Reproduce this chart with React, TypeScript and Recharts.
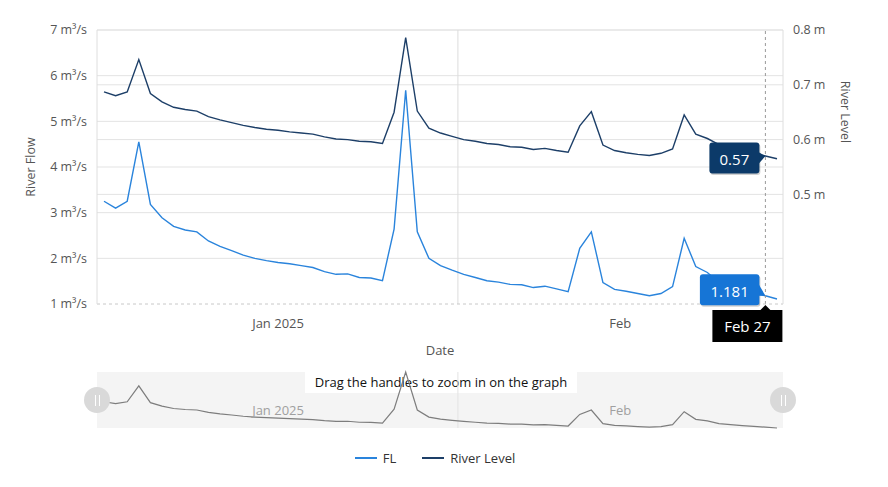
import React from 'react';
import { LineChart, Line, XAxis, YAxis, CartesianGrid, ReferenceLine, ReferenceDot, Legend } from 'recharts';

const FONT = '"Open Sans", "Noto Sans", sans-serif';

// one reading per day, Jan 1 – Feb 28 2025
const days = [
  'Jan 1', 'Jan 2', 'Jan 3', 'Jan 4', 'Jan 5', 'Jan 6', 'Jan 7', 'Jan 8', 'Jan 9', 'Jan 10',
  'Jan 11', 'Jan 12', 'Jan 13', 'Jan 14', 'Jan 15', 'Jan 16', 'Jan 17', 'Jan 18', 'Jan 19', 'Jan 20',
  'Jan 21', 'Jan 22', 'Jan 23', 'Jan 24', 'Jan 25', 'Jan 26', 'Jan 27', 'Jan 28', 'Jan 29', 'Jan 30',
  'Jan 31', 'Feb 1', 'Feb 2', 'Feb 3', 'Feb 4', 'Feb 5', 'Feb 6', 'Feb 7', 'Feb 8', 'Feb 9',
  'Feb 10', 'Feb 11', 'Feb 12', 'Feb 13', 'Feb 14', 'Feb 15', 'Feb 16', 'Feb 17', 'Feb 18', 'Feb 19',
  'Feb 20', 'Feb 21', 'Feb 22', 'Feb 23', 'Feb 24', 'Feb 25', 'Feb 26', 'Feb 27', 'Feb 28',
];

// river flow, m3/s
const flow = [
  3.25, 3.1, 3.25, 4.55, 3.18, 2.89, 2.7, 2.62, 2.58, 2.38,
  2.26, 2.17, 2.07, 2.0, 1.95, 1.91, 1.88, 1.84, 1.8, 1.71,
  1.65, 1.66, 1.58, 1.57, 1.51, 2.64, 5.68, 2.58, 2.0, 1.84,
  1.74, 1.65, 1.58, 1.51, 1.48, 1.43, 1.42, 1.36, 1.39, 1.33,
  1.27, 2.22, 2.58, 1.47, 1.32, 1.28, 1.23, 1.18, 1.23, 1.38,
  2.44, 1.82, 1.69, 1.47, 1.38, 1.31, 1.24, 1.181, 1.11,
];

// river level, m
const level = [
  0.687, 0.68, 0.687, 0.746, 0.684, 0.669, 0.659, 0.655, 0.652, 0.642,
  0.636, 0.631, 0.626, 0.622, 0.619, 0.617, 0.614, 0.612, 0.61, 0.605,
  0.601, 0.6, 0.597, 0.596, 0.593, 0.65, 0.786, 0.652, 0.621, 0.612,
  0.606, 0.6, 0.597, 0.593, 0.591, 0.587, 0.586, 0.582, 0.584, 0.58,
  0.577, 0.625, 0.651, 0.59, 0.58, 0.576, 0.573, 0.571, 0.575, 0.583,
  0.645, 0.61, 0.602, 0.591, 0.585, 0.579, 0.575, 0.57, 0.565,
];

const flowTicks = [1, 2, 3, 4, 5, 6, 7];
const levelTicks = [0.5, 0.6, 0.7, 0.8];
const monthMid = [15, 44.5];
const monthLabels = ['Jan 2025', 'Feb'];
const monthStart = [30.5];
const hoverIndex = 57;

const FL_COLOR = '#2a84dc';
const LEVEL_COLOR = '#1d3f68';
const FL_TAG = '#1675d6';
const LEVEL_TAG = '#0c3a69';

const data = days.map((day, i) => ({ i, day, fl: flow[i], level: level[i] }));

const monthName = (v: number) => monthLabels[monthMid.indexOf(v)] ?? '';

function ValueTag(props: any) {
  const { cx, cy, text, fill, shift } = props;
  const w = 12 + text.length * 9.5;
  const h = 31;
  const right = cx - 6;
  const mid = cy + shift;
  return (
    <g>
      <rect x={right - w + 1} y={mid - h / 2 + 1.5} width={w} height={h} rx={3} fill="rgba(0,0,0,0.18)" />
      <polygon points={`${right - 1},${mid - 6} ${cx},${cy} ${right - 1},${mid + 6}`} fill={fill} />
      <rect x={right - w} y={mid - h / 2} width={w} height={h} rx={3} fill={fill} />
      <text x={right - w / 2} y={mid + 1} fill="#fff" fontSize={15} textAnchor="middle" dominantBaseline="central">
        {text}
      </text>
    </g>
  );
}

function DateTag(props: any) {
  const { cx, cy } = props;
  const w = 70;
  const h = 32;
  const left = cx - 53;
  return (
    <g>
      <polygon points={`${cx - 6},${cy + 7} ${cx},${cy + 1} ${cx + 6},${cy + 7}`} fill="#000" />
      <rect x={left} y={cy + 6} width={w} height={h} fill="#000" />
      <text x={left + w / 2} y={cy + 6 + h / 2} fill="#fff" fontSize={15} textAnchor="middle" dominantBaseline="central">
        {days[hoverIndex]}
      </text>
    </g>
  );
}

function LegendRow(props: any) {
  const { payload } = props;
  return (
    <div style={{ height: 30, display: 'flex', justifyContent: 'center', alignItems: 'center', gap: 26, paddingRight: 18 }}>
      {(payload || []).map((p: any) => (
        <span key={p.value} style={{ display: 'flex', alignItems: 'center', color: '#333', fontSize: 13 }}>
          <svg width={22} height={4}>
            <line x1={0} y1={2} x2={22} y2={2} stroke={p.color} strokeWidth={2} />
          </svg>
          <span style={{ marginLeft: 6 }}>{p.value}</span>
        </span>
      ))}
    </div>
  );
}

function NavTick(props: any) {
  const { x, y, payload } = props;
  return (
    <text x={x} y={y - 18} fill="#a0a0a0" fontSize={13} textAnchor="middle" dominantBaseline="central">
      {monthName(payload.value)}
    </text>
  );
}

const Handle = ({ left }: { left: number }) => (
  <div
    style={{
      position: 'absolute', left: left - 13, top: 387, width: 26, height: 26, borderRadius: 13,
      background: '#d9d9d9', display: 'flex', justifyContent: 'center', alignItems: 'center', gap: 3,
    }}
  >
    <div style={{ width: 1, height: 11, background: '#fff' }} />
    <div style={{ width: 1, height: 11, background: '#fff' }} />
  </div>
);

export default function App() {
  const tickStyle = { fill: '#555', fontSize: 12.5 };
  return (
    <div style={{ position: 'absolute', left: 0, top: 0, width: 888, height: 487, background: '#fff', fontFamily: FONT }}>
      <div style={{ position: 'absolute', left: 0, top: 0 }}>
        <LineChart width={888} height={487} data={data} margin={{ top: 30, right: 0, left: 0, bottom: 14 }}>
          <CartesianGrid yAxisId="flow" horizontalValues={flowTicks.slice(1)} vertical={false} stroke="#e3e3e3" />
          <CartesianGrid yAxisId="level" horizontalValues={levelTicks} vertical={false} stroke="#e3e3e3" />
          <ReferenceLine yAxisId="flow" x={monthStart[0]} stroke="#dcdcdc" />
          <XAxis
            dataKey="i"
            type="number"
            domain={[0, days.length - 1]}
            ticks={monthMid}
            tickFormatter={monthName}
            padding={{ left: 7, right: 6 }}
            height={139}
            axisLine={{ stroke: '#c8c8c8', strokeDasharray: '3 3' }}
            tickLine={false}
            tickMargin={9}
            tick={{ ...tickStyle, fontSize: 13 }}
            label={(p: any) => (
              <text x={p.viewBox.x + p.viewBox.width / 2} y={p.viewBox.y + 46} fill="#555" fontSize={13} textAnchor="middle" dominantBaseline="central">
                Date
              </text>
            )}
          />
          <YAxis
            yAxisId="flow"
            domain={[1, 7]}
            ticks={flowTicks}
            width={97}
            axisLine={{ stroke: '#dedede' }}
            tickLine={false}
            tickMargin={4}
            tick={tickStyle}
            tickFormatter={(v: number) => `${v} m³/s`}
            label={(p: any) => {
              const x = p.viewBox.x + 30;
              const y = p.viewBox.y + p.viewBox.height / 2;
              return (
                <text x={x} y={y} transform={`rotate(-90 ${x} ${y})`} fill="#555" fontSize={12.5} textAnchor="middle" dominantBaseline="central">
                  River Flow
                </text>
              );
            }}
          />
          <YAxis
            yAxisId="level"
            orientation="right"
            domain={[0.3, 0.8]}
            ticks={levelTicks}
            width={105}
            axisLine={{ stroke: '#dedede' }}
            tickLine={false}
            tickMargin={4}
            tick={tickStyle}
            tickFormatter={(v: number) => `${v} m`}
            label={(p: any) => {
              const x = p.viewBox.x + 62;
              const y = p.viewBox.y + 82;
              return (
                <text x={x} y={y} transform={`rotate(90 ${x} ${y})`} fill="#555" fontSize={12.5} textAnchor="middle" dominantBaseline="central">
                  River Level
                </text>
              );
            }}
          />
          <Line yAxisId="flow" dataKey="fl" name="FL" stroke={FL_COLOR} strokeWidth={1.4} dot={false} activeDot={false} isAnimationActive={false} />
          <Line yAxisId="level" dataKey="level" name="River Level" stroke={LEVEL_COLOR} strokeWidth={1.4} dot={false} activeDot={false} isAnimationActive={false} />
          <ReferenceLine yAxisId="flow" x={hoverIndex} stroke="#9a9a9a" strokeDasharray="3 3" />
          <ReferenceDot
            yAxisId="level"
            x={hoverIndex}
            y={level[hoverIndex]}
            ifOverflow="visible"
            shape={(p: any) => <ValueTag cx={p.cx} cy={p.cy} text={String(level[hoverIndex])} fill={LEVEL_TAG} shift={2} />}
          />
          <ReferenceDot
            yAxisId="flow"
            x={hoverIndex}
            y={flow[hoverIndex]}
            ifOverflow="visible"
            shape={(p: any) => <ValueTag cx={p.cx} cy={p.cy} text={String(flow[hoverIndex])} fill={FL_TAG} shift={-6} />}
          />
          <ReferenceDot
            yAxisId="flow"
            x={hoverIndex}
            y={flowTicks[0]}
            ifOverflow="visible"
            shape={(p: any) => <DateTag cx={p.cx} cy={p.cy} />}
          />
          <Legend content={<LegendRow />} />
        </LineChart>
      </div>

      {/* navigator */}
      <div style={{ position: 'absolute', left: 97, top: 372, width: 686, height: 56, background: '#f4f4f4' }} />
      <div
        style={{
          position: 'absolute', left: 305, top: 370, width: 272, height: 23, background: '#fff', color: '#111',
          fontSize: 13, display: 'flex', alignItems: 'center', justifyContent: 'center',
        }}
      >
        Drag the handles to zoom in on the graph
      </div>
      <div style={{ position: 'absolute', left: 0, top: 360 }}>
        <LineChart width={888} height={80} data={data} margin={{ top: 12, right: 105, left: 97, bottom: 0 }}>
          <ReferenceLine x={monthStart[0]} stroke="#e4e4e4" />
          <XAxis
            dataKey="i"
            type="number"
            domain={[0, days.length - 1]}
            ticks={monthMid}
            padding={{ left: 7, right: 6 }}
            height={12}
            axisLine={false}
            tickLine={false}
            tickSize={0}
            tickMargin={0}
            tick={<NavTick />}
          />
          <YAxis hide domain={['dataMin', 'dataMax']} />
          <Line dataKey="fl" stroke="#7d7d7d" strokeWidth={1.2} dot={false} activeDot={false} isAnimationActive={false} />
        </LineChart>
      </div>
      <Handle left={97} />
      <Handle left={783} />
    </div>
  );
}
